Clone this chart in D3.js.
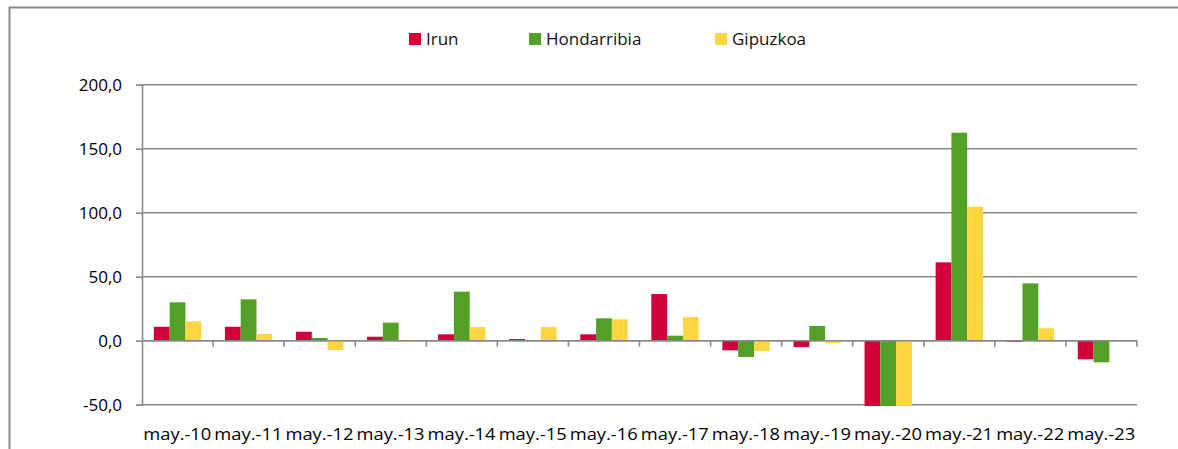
<!DOCTYPE html>
<html>
<head>
<meta charset="utf-8">
<script src="https://cdn.jsdelivr.net/npm/d3@7"></script>
<style>
  body { margin: 0; background: #fff; }
  svg { display: block; font-family: "Open Sans", sans-serif; }
</style>
</head>
<body>
<div id="chart"></div>
<script>
// categories and values
var categories = ["may.-10", "may.-11", "may.-12", "may.-13", "may.-14", "may.-15", "may.-16",
                  "may.-17", "may.-18", "may.-19", "may.-20", "may.-21", "may.-22", "may.-23"];
var irun        = [10.9, 10.9, 7.0, 3.1, 5.0, 1.3, 5.0, 36.5, -7.5, -4.9, -51, 61.2, -0.8, -14.5];
var hondarribia = [30.0, 32.3, 2.1, 14.1, 38.3, 0.0, 17.5, 3.9, -12.7, 11.5, -51, 162.5, 44.8, -16.9];
var gipuzkoa    = [15.1, 5.2, -7.3, -0.8, 10.7, 10.7, 16.7, 18.5, -8.0, -2.0, -51, 104.7, 9.7, 0.3];
var yTicks = [-50, 0, 50, 100, 150, 200];

var seriesNames = ["Irun", "Hondarribia", "Gipuzkoa"];
var seriesValues = [irun, hondarribia, gipuzkoa];
var colors = ["#D0003A", "#52A026", "#FFD541"];

function drawChart() {
  var W = 1178, H = 449;
  var plotLeft = 142, plotRight = 1137, plotTop = 84.7, plotBottom = 404.7;
  var gray = "#898989";

  var svg = d3.select("#chart").append("svg").attr("width", W).attr("height", H);

  // outer frame (only top and left edges are visible)
  svg.append("path")
    .attr("d", "M9.5," + H + "V7.5H" + W)
    .attr("fill", "none").attr("stroke", gray).attr("stroke-width", 2);

  var x = d3.scaleBand().domain(categories).range([plotLeft, plotRight]);
  var x1 = d3.scaleBand().domain(seriesNames).range([0, x.bandwidth()]).paddingOuter(0.75).paddingInner(0);
  var y = d3.scaleLinear().domain([-50, 200]).range([plotBottom, plotTop]);

  // gridlines
  svg.append("g").selectAll("line").data(yTicks).join("line")
    .attr("x1", plotLeft).attr("x2", plotRight)
    .attr("y1", function (d) { return y(d); }).attr("y2", function (d) { return y(d); })
    .attr("stroke", gray).attr("stroke-width", 1.6);

  // y axis, labels like "200,0" and "-50,0"
  var yAxis = svg.append("g").attr("transform", "translate(" + plotLeft + ",0)")
    .call(d3.axisLeft(y).tickValues(yTicks).tickSize(6).tickPadding(14)
      .tickFormat(function (d) { return d.toFixed(1).replace(".", ","); }));
  yAxis.select(".domain").attr("stroke", gray).attr("stroke-width", 1.6);
  yAxis.selectAll(".tick line").attr("stroke", gray).attr("stroke-width", 1.6);
  yAxis.selectAll(".tick text").attr("font-family", "Open Sans").attr("font-size", 17)
    .attr("fill", "#000").attr("dy", "0.33em");

  // bars
  var groups = svg.append("g").selectAll("g").data(categories).join("g")
    .attr("transform", function (d) { return "translate(" + x(d) + ",0)"; });
  groups.selectAll("rect")
    .data(function (d, i) {
      return seriesNames.map(function (s, k) { return { s: s, k: k, v: seriesValues[k][i] }; });
    })
    .join("rect")
    .attr("x", function (d) { return x1(d.s); })
    .attr("width", x1.bandwidth())
    .attr("y", function (d) { return y(Math.max(0, d.v)); })
    .attr("height", function (d) { return Math.abs(y(d.v) - y(0)); })
    .attr("fill", function (d) { return colors[d.k]; });

  // x axis at zero with ticks between categories
  var bounds = categories.map(function (c) { return x(c) + x.bandwidth(); });
  svg.append("line").attr("x1", plotLeft).attr("x2", plotRight).attr("y1", y(0)).attr("y2", y(0))
    .attr("stroke", gray).attr("stroke-width", 1.6);
  svg.append("g").selectAll("line").data(bounds).join("line")
    .attr("x1", function (d) { return d; }).attr("x2", function (d) { return d; })
    .attr("y1", y(0)).attr("y2", y(0) + 6)
    .attr("stroke", gray).attr("stroke-width", 1.6);

  // category labels along the bottom
  svg.append("g").selectAll("text").data(categories).join("text")
    .attr("x", function (d) { return x(d) + 1.3; })
    .attr("y", 440)
    .attr("font-size", 17)
    .attr("textLength", 68).attr("lengthAdjust", "spacingAndGlyphs")
    .text(function (d) { return d; });

  // legend
  var legendX = [409, 529, 715];
  var legend = svg.append("g").selectAll("g").data(seriesNames).join("g")
    .attr("transform", function (d, i) { return "translate(" + legendX[i] + ",33)"; });
  legend.append("rect").attr("width", 12).attr("height", 12)
    .attr("fill", function (d, i) { return colors[i]; });
  legend.append("text").attr("x", 17).attr("y", 12).attr("font-size", 17).attr("fill", "#111")
    .text(function (d) { return d; });
}

drawChart();
</script>
</body>
</html>
